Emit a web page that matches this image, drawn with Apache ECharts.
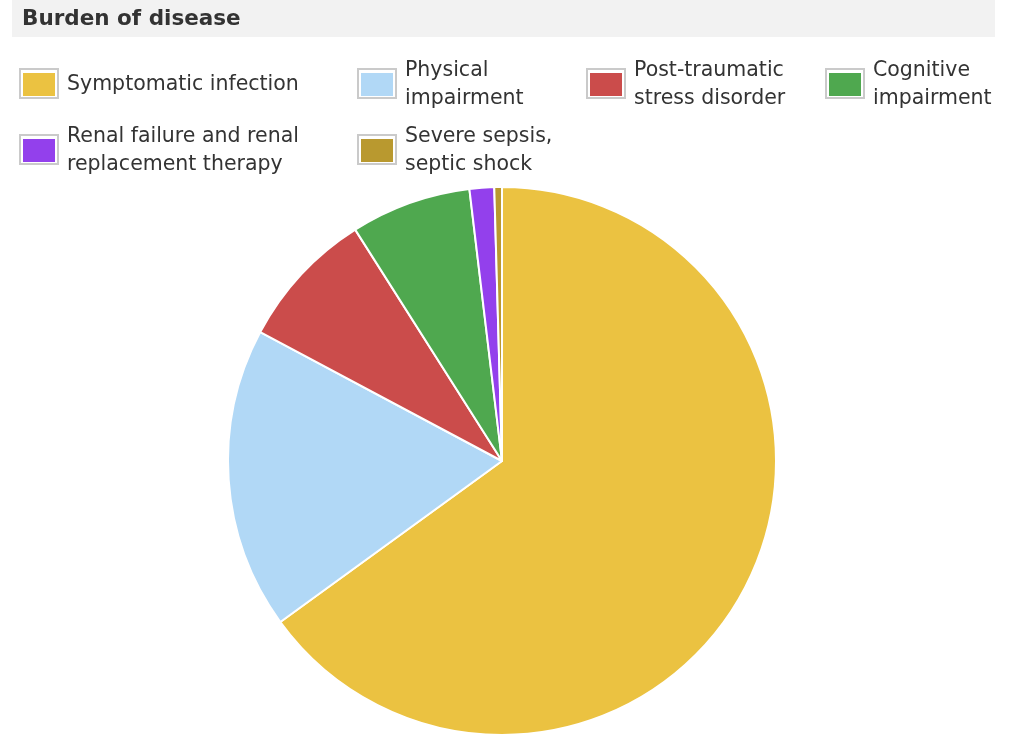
<!DOCTYPE html>
<html>
<head>
<meta charset="utf-8">
<title>Burden of disease</title>
<script src="https://cdn.jsdelivr.net/npm/echarts@6/dist/echarts.min.js"></script>
<style>
  html, body { margin: 0; padding: 0; background: #ffffff; }
  #chart { width: 1009px; height: 736px; }
</style>
</head>
<body>
<div id="chart"></div>
<script>
// Outcome categories and their share of the total burden (%)
const categories = [
  'Symptomatic infection',
  'Physical impairment',
  'Post-traumatic stress disorder',
  'Cognitive impairment',
  'Renal failure and renal replacement therapy',
  'Severe sepsis, septic shock'
];
const shares = [65.0, 17.8, 8.2, 7.1, 1.45, 0.45];

// Legend text, wrapped as shown in the key
const legendLabels = [
  'Symptomatic infection',
  'Physical\nimpairment',
  'Post-traumatic\nstress disorder',
  'Cognitive\nimpairment',
  'Renal failure and renal\nreplacement therapy',
  'Severe sepsis,\nseptic shock'
];

const sliceColors = ['#EBC241', '#B1D8F6', '#CB4C4B', '#4FA84F', '#9340EC', '#B9992F'];

// Key layout: top-left corner of each swatch frame, and how many lines its label takes
const keySlots = [
  { x: 19,  y: 68,  lines: 1 },
  { x: 357, y: 68,  lines: 2 },
  { x: 586, y: 68,  lines: 2 },
  { x: 825, y: 68,  lines: 2 },
  { x: 19,  y: 134, lines: 2 },
  { x: 357, y: 134, lines: 2 }
];
const FRAME_W = 40, FRAME_H = 31, FRAME_INSET = 4;
const SWATCH_W = 32, SWATCH_H = 23, LINE_H = 28;
const FONT = 'DejaVu Sans';

const chart = echarts.init(document.getElementById('chart'), null, { renderer: 'canvas' });

const legends = categories.map((name, i) => {
  const slot = keySlots[i];
  const centerY = slot.y + FRAME_H / 2 + 1;
  const blockH = Math.max(SWATCH_H, slot.lines * LINE_H);
  return {
    data: [name],
    left: slot.x + FRAME_INSET,
    top: centerY - blockH / 2,
    padding: 0,
    icon: 'rect',
    itemWidth: SWATCH_W,
    itemHeight: SWATCH_H,
    itemStyle: { borderWidth: 0 },
    selectedMode: false,
    formatter: () => legendLabels[i],
    textStyle: {
      fontFamily: FONT,
      fontSize: 20.5,
      color: '#333333',
      lineHeight: LINE_H,
      padding: [0, 0, 0, 7]
    }
  };
});

// Grey frames around each key swatch
const frames = keySlots.map(slot => ({
  type: 'rect',
  z: 100,
  shape: { x: slot.x + 1, y: slot.y + 1, width: FRAME_W - 2, height: FRAME_H - 2 },
  style: { fill: null, stroke: '#cacaca', lineWidth: 2 }
}));

chart.setOption({
  animation: false,
  color: sliceColors,
  title: {
    text: 'Burden of disease',
    left: 22,
    top: 6,
    padding: 0,
    textStyle: {
      fontFamily: FONT,
      fontSize: 21.5,
      fontWeight: 'bold',
      color: '#333333',
      lineHeight: 26
    }
  },
  graphic: [
    {
      type: 'rect',
      z: -10,
      shape: { x: 12, y: 0, width: 983, height: 37 },
      style: { fill: '#f2f2f2' }
    }
  ].concat(frames),
  legend: legends,
  series: [
    {
      type: 'pie',
      center: [502, 461],
      radius: 274,
      startAngle: 90,
      clockwise: true,
      label: { show: false },
      labelLine: { show: false },
      itemStyle: { borderColor: '#ffffff', borderWidth: 2 },
      emphasis: { disabled: true },
      data: categories.map((name, i) => ({ name: name, value: shares[i] }))
    }
  ]
});
</script>
</body>
</html>
